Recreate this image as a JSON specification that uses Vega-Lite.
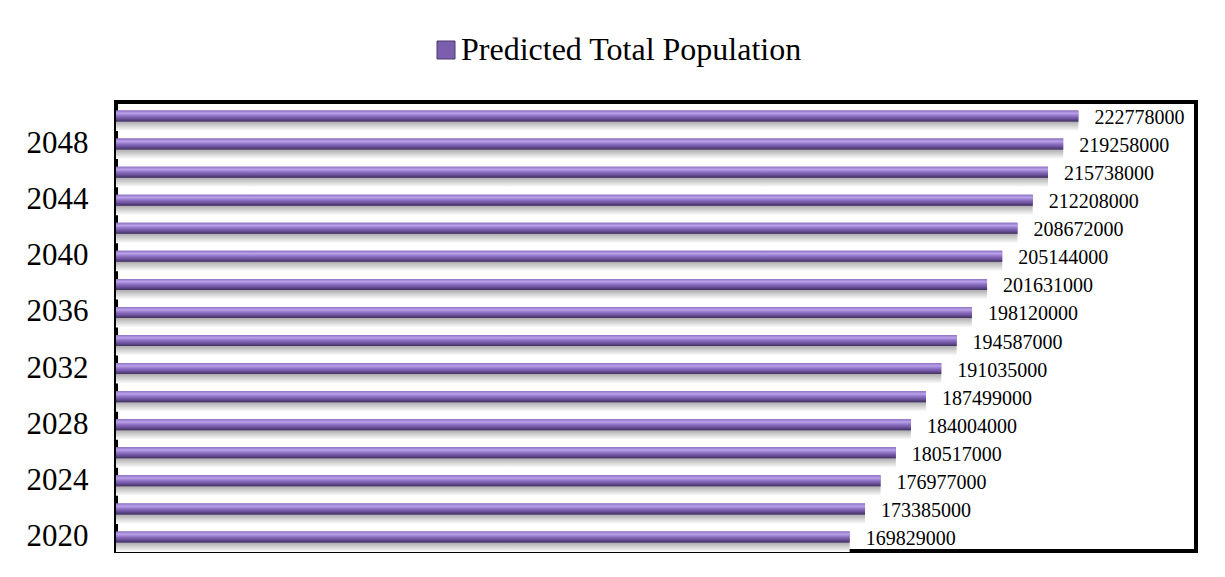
{
  "$schema": "https://vega.github.io/schema/vega-lite/v6.json",
  "autosize": "none",
  "width": 1080,
  "height": 449,
  "padding": {"left": 116, "top": 102, "right": 29, "bottom": 26},
  "background": "white",
  "config": {
    "view": {"stroke": "black", "strokeWidth": 4},
    "font": "Liberation Serif",
    "legend": {"labelFont": "Liberation Serif", "titleFont": "Liberation Serif"},
    "axis": {"labelFont": "Liberation Serif"},
    "text": {"font": "Liberation Serif"}
  },
  "data": {
    "values": [
      {"year": 2020, "population": 169829000, "series": "Predicted Total Population"},
      {"year": 2022, "population": 173385000, "series": "Predicted Total Population"},
      {"year": 2024, "population": 176977000, "series": "Predicted Total Population"},
      {"year": 2026, "population": 180517000, "series": "Predicted Total Population"},
      {"year": 2028, "population": 184004000, "series": "Predicted Total Population"},
      {"year": 2030, "population": 187499000, "series": "Predicted Total Population"},
      {"year": 2032, "population": 191035000, "series": "Predicted Total Population"},
      {"year": 2034, "population": 194587000, "series": "Predicted Total Population"},
      {"year": 2036, "population": 198120000, "series": "Predicted Total Population"},
      {"year": 2038, "population": 201631000, "series": "Predicted Total Population"},
      {"year": 2040, "population": 205144000, "series": "Predicted Total Population"},
      {"year": 2042, "population": 208672000, "series": "Predicted Total Population"},
      {"year": 2044, "population": 212208000, "series": "Predicted Total Population"},
      {"year": 2046, "population": 215738000, "series": "Predicted Total Population"},
      {"year": 2048, "population": 219258000, "series": "Predicted Total Population"},
      {"year": 2050, "population": 222778000, "series": "Predicted Total Population"}
    ]
  },
  "encoding": {
    "y": {
      "field": "year",
      "type": "ordinal",
      "sort": "descending",
      "scale": {"paddingInner": 0.6, "paddingOuter": 0.3},
      "axis": {
        "title": null,
        "ticks": false,
        "domain": false,
        "labelFont": "Liberation Serif",
        "labelFontSize": 31,
        "labelColor": "black",
        "labelPadding": 28,
        "labelExpr": "(datum.value - 2020) % 4 == 0 ? datum.value : ''"
      }
    },
    "x": {
      "field": "population",
      "type": "quantitative",
      "scale": {"domain": [0, 250000000], "nice": false, "zero": true},
      "axis": null
    }
  },
  "layer": [
    {
      "mark": {
        "type": "bar",
        "yOffset": 10,
        "size": 10,
        "fill": {
          "gradient": "linear", "x1": 0, "y1": 0, "x2": 0, "y2": 1,
          "stops": [
            {"offset": 0, "color": "#a8a8a8"},
            {"offset": 1, "color": "#ffffff"}
          ]
        }
      }
    },
    {
      "mark": {"type": "bar", "size": 11},
      "encoding": {
        "color": {
          "field": "series",
          "type": "nominal",
          "scale": {"range": ["#7b5eae"]},
          "legend": {
            "title": null,
            "orient": "none",
            "legendX": 314,
            "legendY": -68,
            "symbolType": "square",
            "symbolSize": 324,
            "symbolStrokeColor": "#4a3a6a",
            "symbolStrokeWidth": 1,
            "labelFont": "Liberation Serif",
            "labelFontSize": 32,
            "labelColor": "black",
            "labelOffset": -1,
            "labelLimit": 600
          }
        }
      }
    },
    {
      "mark": {
        "type": "bar",
        "size": 11,
        "fill": {
          "gradient": "linear", "x1": 0, "y1": 0, "x2": 0, "y2": 1,
          "stops": [
            {"offset": 0, "color": "#8f72c4"},
            {"offset": 0.25, "color": "#b9a1ea"},
            {"offset": 0.5, "color": "#8e70c3"},
            {"offset": 0.75, "color": "#6a509a"},
            {"offset": 1, "color": "#3f315c"}
          ]
        }
      }
    },
    {
      "mark": {
        "type": "text",
        "align": "left",
        "baseline": "middle",
        "dx": 16,
        "dy": 2,
        "font": "Liberation Serif",
        "fontSize": 20,
        "color": "black"
      },
      "encoding": {
        "text": {"field": "population", "type": "quantitative", "format": "d"}
      }
    }
  ]
}
